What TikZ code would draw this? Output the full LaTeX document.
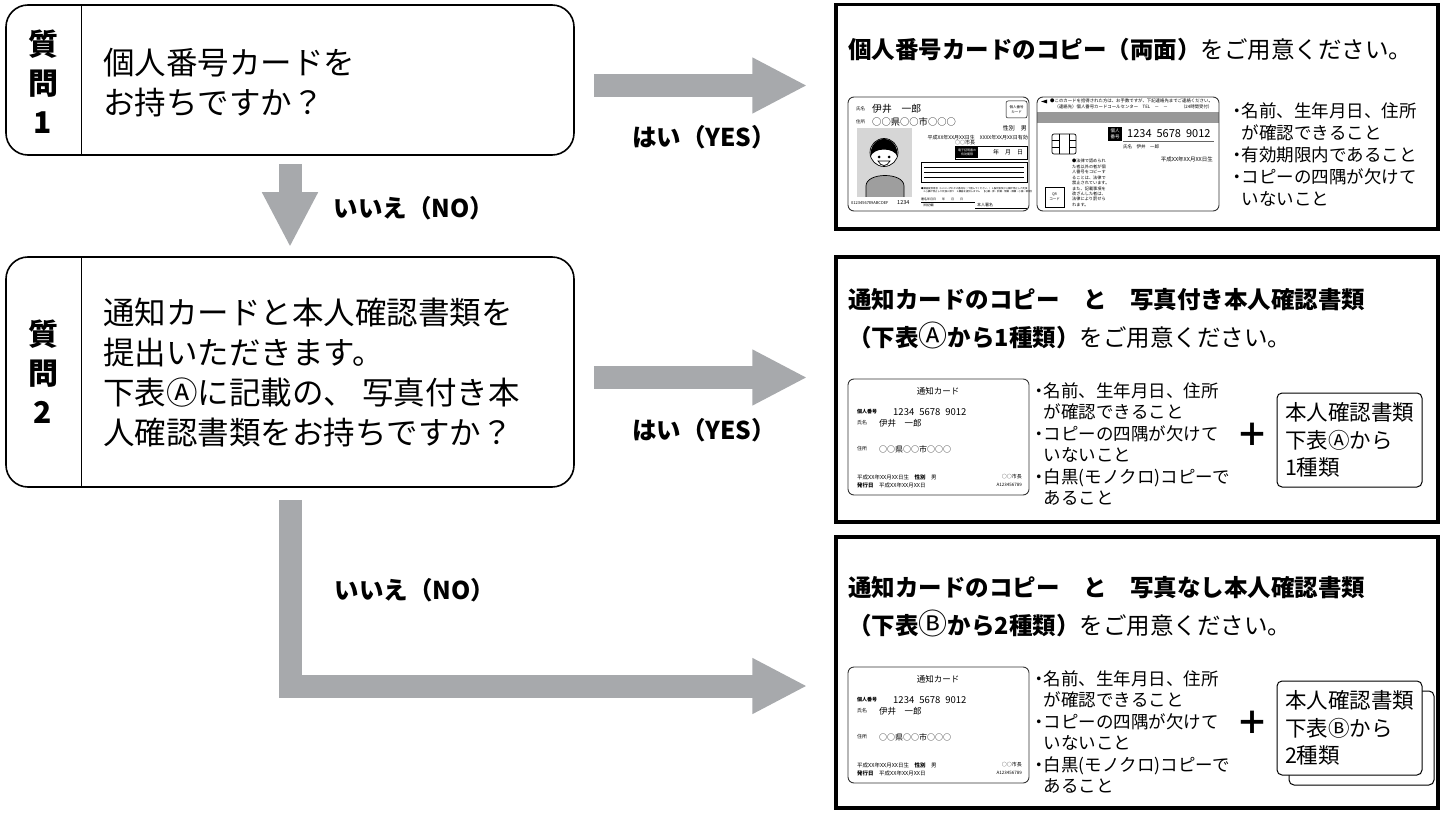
\documentclass[tikz,border=0pt]{standalone}
\usepackage{fontspec}
\setmainfont{Noto Sans CJK JP}
\usetikzlibrary{arrows.meta,calc}
\definecolor{flowgray}{HTML}{A7A9AC}
\newcommand\bul{\makebox[.5em]{・}}

\begin{document}
\begin{tikzpicture}
  [
    x=1pt,y=-1pt,
    qbox/.style={draw,line width=1.6pt,rounded corners=22pt,minimum width=568pt},
    qno/.style={font=\fontsize{30}{39}\selectfont\bfseries,align=center,inner sep=0pt},
    qtext/.style={font=\fontsize{31.5}{40}\selectfont,align=left,anchor=west,inner sep=0pt},
    ansframe/.style={draw,line width=3.5pt,minimum width=602pt},
    flow/.style={draw=flowgray,line width=23pt,-{Triangle[length=55pt,width=52pt]}},
    yesno/.style={font=\fontsize{24.5}{24.5}\selectfont\bfseries,inner sep=0pt},
    ttl/.style={font=\fontsize{23.5}{38}\selectfont,align=left,anchor=west,inner sep=0pt},
    cond/.style={font=\fontsize{17.5}{21.5}\selectfont,align=left,anchor=west,inner sep=0pt},
    card/.style={draw=black!80,line width=0.9pt,rounded corners=6pt},
    cardtxt/.style={inner sep=0pt,font=\fontsize{#1}{1.3\dimexpr#1pt\relax}\selectfont},
    docbox/.style={draw,line width=1pt,rounded corners=5pt,fill=white,minimum width=145pt,minimum height=94pt},
    doctext/.style={font=\fontsize{21.5}{27.5}\selectfont,align=left},
    plus/.style={font=\fontsize{32}{32}\selectfont\bfseries,inner sep=0pt}
  ]
  \useasboundingbox (0,0) rectangle (1448,813);

  % question 1
  \node[qbox,minimum height=150pt] (q1) at (290,80) {};
  \draw[line width=1.2pt] ($(q1.north west)+(76,0)$) -- ($(q1.south west)+(76,0)$);
  \node[qno] (q1no) at (43,82) {質\\問\\1};
  \node[qtext] (q1txt) at (103,83) {個人番号カードを\\お持ちですか？};

  % question 2
  \node[qbox,minimum height=230pt] (q2) at (290,372) {};
  \draw[line width=1.2pt] ($(q2.north west)+(76,0)$) -- ($(q2.south west)+(76,0)$);
  \node[qno] (q2no) at (43,372) {質\\問\\2};
  \node[qtext] (q2txt) at (103,373) {通知カードと本人確認書類を\\提出いただきます。\\下表Ⓐに記載の、 写真付き本\\人確認書類をお持ちですか？};

  % answer frames
  \node[ansframe,minimum height=224.5pt] (r1) at (1137,116.75) {};
  \node[ansframe,minimum height=265pt] (r2) at (1137,389.5) {};
  \node[ansframe,minimum height=271pt] (r3) at (1137,672.5) {};

  % arrows
  \draw[flow] ($(q1.east)+(19,5.5)$) -- ($(q1.east -| r1.west)+(-27,5.5)$);
  \draw[flow] ($(q1.south)+(0,8)$) -- ($(q2.north)+(0,-9)$);
  \draw[flow] ($(q2.east)+(19,5.5)$) -- ($(q2.east -| r2.west)+(-27,5.5)$);
  \draw[flow] ($(q2.south)+(0,12)$) |- ($(r3.west)+(-27,13.5)$);
  \node[yesno] (yes1) at (704,137.5) {はい（YES）};
  \node[yesno] (yes2) at (704,430) {はい（YES）};
  \node[yesno] (no1) at (414,208) {いいえ（NO）};
  \node[yesno] (no2) at (415,590) {いいえ（NO）};

  % answer 1
  \node[ttl] (ttl0) at (848,50) {{\bfseries 個人番号カードのコピー（両面）}をご用意ください。};
  % card front
  \draw[card] (848,97) rectangle (1029,211);
  \node[cardtxt=4.5,anchor=west] (fl1) at (856,109) {氏名};
  \node[cardtxt=9.8,anchor=west] (fnm) at (872,109) {伊井　一郎};
  \node[cardtxt=4.5,anchor=west] (fl2) at (856,122) {住所};
  \node[cardtxt=9.3,anchor=west] (fad) at (872,122) {○○県○○市○○○};
  \draw[line width=0.5pt,rounded corners=2pt] (1006,101) rectangle (1027,118);
  \node[cardtxt=3.5,align=center] (ftag) at (1016.5,109.5) {個人番号\\カード};
  \node[cardtxt=6,anchor=east] (fsex) at (1027,128) {性別　男};
  \node[cardtxt=5,anchor=east] (fdate) at (1028,138) {平成XX年XX月XX日生　XXXX年XX月XX日有効};
  \node[cardtxt=5] (fmay) at (965,143) {○○市長};
  \draw[line width=0.6pt] (955,146) rectangle (1027,159);
  \node[fill=black,text=white,cardtxt=3,align=center,minimum width=22pt,minimum height=11pt] (fcert) at (967,152.5) {電子証明書の\\有効期限};
  \node[cardtxt=6] (fymd) at (1008,152.5) {年　月　日};
  \draw[line width=0.6pt] (921,162) rectangle (1027,182);
  \foreach \ly in {167,172,177} {
      \draw[line width=0.5pt] (924,\ly) -- (1024,\ly);
  }
  \node[cardtxt=2.4,anchor=west,align=left] (fnote) at (921,190) {●臓器提供意思（1.2.3.いずれかの番号を○で囲んでください。）1.脳死後及び心臓が停止した死後\\　2.心臓が停止した死後に限り　3.臓器を提供しません　【心臓・肺・肝臓・腎臓・膵臓・小腸・眼球】};
  \node[cardtxt=4,anchor=west] (fid) at (851,203) {0123456789ABCDEF};
  \node[cardtxt=5.5,anchor=west] (fno) at (897,203) {1234};
  \node[cardtxt=3,anchor=west] (fsig) at (921,199) {署名年月日　　年　　月　　日};
  \node[cardtxt=3,anchor=west] (fspc) at (921,205) {（特記欄）};
  \node[cardtxt=4,anchor=west] (fsgn) at (977,205) {本人署名};
  \draw[line width=0.5pt] (921,202) -- (975,202);
  \draw[line width=0.5pt] (975,208) -- (1027,208);
  % photo
  \fill[black!16] (857,128) rectangle (912,197);
  \draw[fill=black!38,line width=0.7pt] (866,197) -- (866,186) .. controls (866,172) and (904,172) .. (904,186) -- (904,197);
  \draw[fill=white,line width=0.7pt] (884,152.5) circle (14);
  \fill (870.5,157) .. controls (869,133) and (899,133) .. (897.5,157) .. controls (895,147) and (873,147) .. cycle;
  \fill (879,157) circle (1.5);
  \fill (889,157) circle (1.5);
  \draw[line width=0.7pt] (878,161) .. controls (881,167) and (887,167) .. (890,161) -- cycle;
  % card back
  \fill[black!40] (1037,112) rectangle (1219,123);
  \draw[card] (1037,97) rectangle (1219,211);
  \fill (1041,101.5) -- (1047,99.5) -- (1047,103.5) -- cycle;
  \node[cardtxt=4.4,anchor=west,align=left] (bcall) at (1050,104) {●このカードを拾得された方は、お手数ですが、下記連絡先までご連絡ください。\\　（連絡先）個人番号カードコールセンター　TEL　－　－　　　（24時間受付）};
  \draw[line width=0.7pt,rounded corners=2pt] (1052,134) rectangle (1076,154);
  \draw[line width=0.5pt] (1059,134) -- (1059,154) (1069,134) -- (1069,154)
    (1052,140.5) -- (1059,140.5) (1052,147) -- (1059,147)
    (1069,140.5) -- (1076,140.5) (1069,147) -- (1076,147);
  \node[fill=black,text=white,cardtxt=4.5,align=center,minimum width=14pt,minimum height=14pt] (bnolbl) at (1115,134) {個人\\番号};
  \node[cardtxt=11,anchor=west] (bno) at (1127,133.5) {1234\hspace{5pt}5678\hspace{5pt}9012};
  \draw[line width=1.2pt,black!60] (1123,141.5) -- (1214,141.5);
  \node[cardtxt=4.5,anchor=west] (bnm) at (1123,147) {氏名　伊井　一郎};
  \node[cardtxt=5.5,anchor=east] (bbd) at (1213,159) {平成XX年XX月XX日生};
  \node[cardtxt=4.2,anchor=north west,align=left] (blaw) at (1072,159) {●法律で認められ\\た者以外の者が個\\人番号をコピーす\\ることは、法律で\\禁止されています。\\また、記載事項を\\改ざんした者は、\\法律により罰せら\\れます。};
  \draw[line width=0.6pt] (1045,187) rectangle (1064,207);
  \node[cardtxt=3.5,align=center] (bqr) at (1054.5,197) {QR\\コード};
  % conditions
  \node[cond,font=\fontsize{17.5}{22}\selectfont] (cond0) at (1233,155) {\bul 名前、生年月日、住所\\\hspace*{.5em}が確認できること\\\bul 有効期限内であること\\\bul コピーの四隅が欠けて\\\hspace*{.5em}いないこと};

  % answer 2 and 3
  \node[docbox] (doc2back) at (1361.5,738) {};
  \foreach \oy/\kind/\tbl/\nk in {0/付き/Ⓐ/1,288/なし/Ⓑ/2} {
    \begin{scope}[shift={(0,\oy)}]
      \node[ttl] (ttl\nk) at (848,319) {{\bfseries 通知カードのコピー　と　写真\kind 本人確認書類}\\{\bfseries （下表{\mdseries\fontsize{29}{32}\selectfont\tbl}から\nk 種類）}をご用意ください。};
      % notice card
      \draw[card] (848,379) rectangle (1029,495);
      \node[cardtxt=8.5] (nct\nk) at (938,391) {通知カード};
      \node[cardtxt=5,anchor=west] (ncl1\nk) at (857,412) {\bfseries 個人番号};
      \node[cardtxt=9.5,anchor=west] (ncno\nk) at (893,412) {1234\hspace{5pt}5678\hspace{5pt}9012};
      \node[cardtxt=5,anchor=west] (ncl2\nk) at (857,423) {氏名};
      \node[cardtxt=8.5,anchor=west] (ncnm\nk) at (879,423) {伊井　一郎};
      \node[cardtxt=5,anchor=west] (ncl3\nk) at (857,449) {住所};
      \node[cardtxt=8,anchor=west] (ncad\nk) at (879,449) {○○県○○市○○○};
      \node[cardtxt=5.5,anchor=west] (ncbd\nk) at (857,477) {平成XX年XX月XX日生　{\bfseries 性別}　男};
      \node[cardtxt=5,anchor=east] (ncmy\nk) at (1022,477) {○○市長};
      \node[cardtxt=5.5,anchor=west] (ncis\nk) at (857,485) {{\bfseries 発行日}　平成XX年XX月XX日};
      \node[cardtxt=4.5,anchor=east] (ncid\nk) at (1022,485) {A123456789};
      % conditions
      \node[cond] (cond\nk) at (1035,444) {\bul 名前、生年月日、住所\\\hspace*{.5em}が確認できること\\\bul コピーの四隅が欠けて\\\hspace*{.5em}いないこと\\\bul 白黒(モノクロ)コピーで\\\hspace*{.5em}あること};
      \node[plus] (plus\nk) at (1252,435) {＋};
      \node[docbox,doctext] (doc\nk) at (1349.5,440) {本人確認書類\\下表\tbl から\\\nk 種類};
    \end{scope}
  }
\end{tikzpicture}
\end{document}
